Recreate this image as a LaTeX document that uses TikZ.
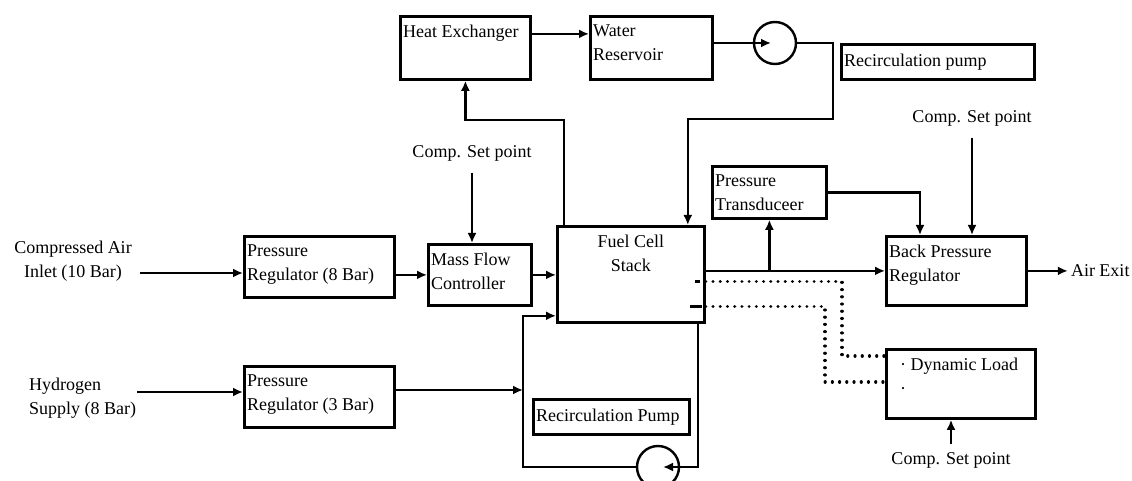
\documentclass[tikz,border=0pt]{standalone}
\usepackage{fontspec}
\setmainfont{Liberation Serif}
\usetikzlibrary{arrows.meta,positioning}

\begin{document}
\begin{tikzpicture}[
    x=0.5pt, y=-0.5pt,
    font=\fontsize{9}{12}\selectfont,
    line width=1.2pt,
    >={Latex[length=5pt,width=4.5pt]},
    box/.style={draw, line width=1.4pt, anchor=north west, inner sep=0pt},
    txt/.style={anchor=north west, align=left, inner xsep=1.5pt, inner ysep=4.5pt},
    pump/.style={draw, circle, minimum size=21pt, inner sep=0pt},
    arr/.style={->},
    dotline/.style={line width=1.6pt, line cap=round, dash pattern=on 0.01pt off 3.6pt}
  ]
    \useasboundingbox (0,0) rectangle (1132,481);
    \node[box, minimum width=65pt, minimum height=31.5pt, label={[txt]north west:Heat Exchanger}] (he) at (399,15) {};
    \node[box, minimum width=61pt, minimum height=31.5pt, label={[txt]north west:{Water\\Reservoir}}] (wr) at (589,15) {};
    \node[pump] (pump1) at (775,43) {};
    \node[box, minimum width=96.5pt, minimum height=17.5pt, label={[txt, anchor=west]west:Recirculation pump}] (rp1) at (840,43) {};
    \node (csp1) at (472,153) {Comp. Set point};
    \node (csp2) at (972,118) {Comp. Set point};
    \node[box, minimum width=57pt, minimum height=26pt, label={[txt]north west:{Pressure\\Transduceer}}] (pt) at (711,165) {};
    \node[box, minimum width=73.5pt, minimum height=48pt, label={[txt, anchor=north, align=center]north:{Fuel Cell\\Stack}}] (stack) at (556,225) {};
    \node[box, minimum width=70pt, minimum height=34.5pt, label={[txt]north west:{Back Pressure\\Regulator}}] (bpr) at (885,235) {};
    \node[right=20pt of bpr, inner xsep=1pt] (air) {Air Exit};
    \node[align=center] (cai) at (73,261) {Compressed Air\\Inlet (10 Bar)};
    \node[box, minimum width=75pt, minimum height=30.5pt, label={[txt]north west:{Pressure\\Regulator (8 Bar)}}] (pr1) at (243,235) {};
    \node[box, minimum width=51.5pt, minimum height=30.5pt, label={[txt]north west:{Mass Flow\\Controller}}] (mfc) at (427,243) {};
    \node[box, minimum width=74.5pt, minimum height=34.5pt, label={[txt, inner xsep=7pt]north west:{· Dynamic Load\\·}}] (dl) at (885,348) {};
    \node[align=left, anchor=west, inner xsep=0pt] (hyd) at (28,398) {Hydrogen\\Supply (8 Bar)};
    \node[box, minimum width=75pt, minimum height=30.5pt, label={[txt]north west:{Pressure\\Regulator (3 Bar)}}] (pr2) at (243,365) {};
    \node[box, minimum width=78pt, minimum height=17.5pt, label={[txt, anchor=west]west:Recirculation Pump}] (rp2) at (532,398) {};
    \node[pump] (pump2) at (658,467) {};
    \node (csp3) at (951,460) {Comp. Set point};
    \coordinate (b1) at (564,120);
    \coordinate (b2) at (833,119);
    \coordinate (hjoin) at (523,390);
    \coordinate (d1) at (842,356);
    \coordinate (d2) at (825,382);
    \coordinate (hw) at ([yshift=7pt]he.east);
    \coordinate (ca) at ([yshift=-6pt]cai.east);
    \coordinate (hy) at ([yshift=3pt]hyd.east);
    \coordinate (sin) at ([yshift=4pt]stack.south west);
    \draw[arr] (hw) -- (hw -| wr.west);
    \draw[arr] (wr.east |- pump1) -- ([xshift=-2pt]pump1.center);
    \draw[arr] (pump1.east) -| (b2) -| ([xshift=-9pt]stack.north east);
    \draw[arr] (b1 |- stack.north) -- (b1) -| (he.south);
    \draw[arr] ([yshift=-2pt]csp1.south) -- (csp1.south |- mfc.north);
    \draw[arr] (ca) -- (ca -| pr1.west);
    \draw[arr] (pr1.east |- mfc.west) -- (mfc.west);
    \draw[arr] (mfc.east) -- (mfc.east -| stack.west);
    \draw[arr] (hy) -- (hy -| pr2.west);
    \draw[arr] (pr2.east |- hjoin) -- (hjoin);
    \draw[arr] ([xshift=-4pt]stack.south east) |- ([xshift=2.5pt]pump2.center);
    \draw[arr] (pump2.west) -| (hjoin |- sin) -- (sin);
    \draw[arr] (stack.east |- bpr.west) -- (bpr.west);
    \draw[arr] (pt.south |- bpr.west) -- (pt.south);
    \draw[arr] (pt.east) -| ([xshift=17.5pt]bpr.north west);
    \draw[arr] ([yshift=-2pt]csp2.south) -- (csp2.south |- bpr.north);
    \draw[arr] (bpr.east) -- (air.west);
    \draw[arr] (csp3.north) -- (csp3.north |- dl.south);
    \draw[dotline] ([yshift=-3.5pt]stack.east) -| (d1) -- (d1 -| dl.west);
    \draw[dotline] ([yshift=-16pt]stack.east) -| (d2) -- (d2 -| dl.west);
    \draw ([xshift=-5.5pt,yshift=-3.5pt]stack.east) -- ++(2.5pt,0);
    \draw ([xshift=-8pt,yshift=-16pt]stack.east) -- ++(6pt,0);
  \end{tikzpicture}
\end{document}
